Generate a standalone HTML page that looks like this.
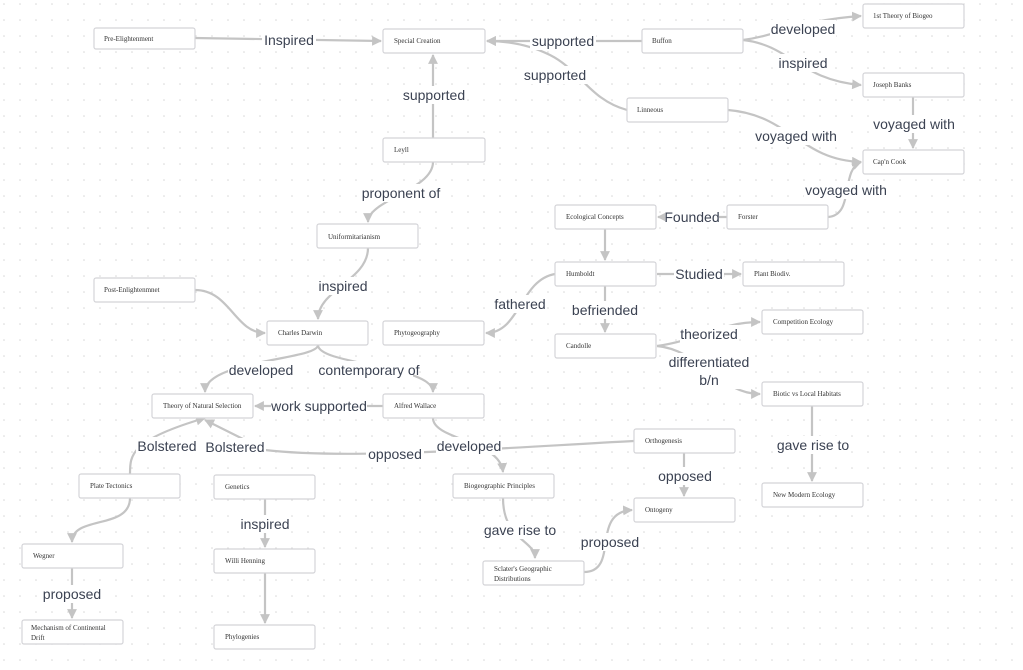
<!DOCTYPE html>
<html><head><meta charset="utf-8"><style>
html,body{margin:0;padding:0;background:#fff;}
svg{display:block;}
.n rect{fill:#fff;stroke:#d4d4d8;stroke-width:1.2;}
.n text{font-family:"Liberation Serif",serif;font-size:7px;fill:#333;}
.e{fill:none;stroke:#c4c4c4;stroke-width:2.2;}
.l{font-family:"Liberation Sans",sans-serif;font-size:14px;fill:#3b4252;text-anchor:middle;}
.lb{fill:#fff;}
</style></head><body>
<svg width="1023" height="670" viewBox="0 0 1023 670" xmlns="http://www.w3.org/2000/svg">
<defs>
<pattern id="dots" width="16" height="16" patternUnits="userSpaceOnUse"><circle cx="4" cy="4" r="0.8" fill="#d8d8d8"/></pattern>
<marker id="a" viewBox="0 0 10 10" refX="9" refY="5" markerWidth="4.5" markerHeight="4.5" orient="auto"><path d="M0,0L10,5L0,10z" fill="#c4c4c4"/></marker>
</defs>
<rect width="1023" height="670" fill="url(#dots)"/>

<g class="e" marker-end="url(#a)">
<path d="M195,38 L381,41"/>
<path d="M642,41 L487,41"/>
<path d="M627,110 C590,100 580,70 550,55 C530,45 510,41 487,41"/>
<path d="M743,40 C780,35 800,20 861,16"/>
<path d="M743,40 C790,45 800,80 861,85"/>
<path d="M913,97 L913,148"/>
<path d="M728,110 C790,115 800,160 861,162"/>
<path d="M828,217 C855,215 840,170 861,162"/>
<path d="M433,138 L433,55"/>
<path d="M433,162 C433,190 368,200 368,222"/>
<path d="M727,217 L658,217"/>
<path d="M605,229 L605,260"/>
<path d="M368,248 C368,280 318,290 318,319"/>
<path d="M195,290 C230,290 235,333 265,333"/>
<path d="M657,274 L741,274"/>
<path d="M555,274 C520,280 520,333 486,333"/>
<path d="M605,286 L605,332"/>
<path d="M657,346 C700,340 720,322 760,322"/>
<path d="M657,346 C700,350 720,394 760,394"/>
<path d="M318,345 C318,360 205,360 205,392"/>
<path d="M318,345 C318,365 433,365 433,392"/>
<path d="M383,406 L255,406"/>
<path d="M433,418 C433,440 500,440 503,472"/>
<path d="M634,441 C500,448 350,460 265,450 L205,420"/>
<path d="M130,474 C130,455 130,440 205,418"/>
<path d="M130,498 C130,530 72,515 72,542"/>
<path d="M265,499 L265,547"/>
<path d="M265,573 L265,623"/>
<path d="M72,568 L72,618"/>
<path d="M503,498 C503,540 535,540 535,558"/>
<path d="M584,572 C620,572 590,512 632,510"/>
<path d="M684,453 L684,496"/>
<path d="M812,406 L812,481"/>
</g>

<g>
<rect class="lb" x="262" y="31" width="54" height="18"/><text class="l" x="289" y="45">Inspired</text>
<rect class="lb" x="530" y="32" width="66" height="18"/><text class="l" x="563" y="46">supported</text>
<rect class="lb" x="522" y="66" width="66" height="18"/><text class="l" x="555" y="80">supported</text>
<rect class="lb" x="770" y="20" width="66" height="18"/><text class="l" x="803" y="34">developed</text>
<rect class="lb" x="778" y="54" width="50" height="18"/><text class="l" x="803" y="68">inspired</text>
<rect class="lb" x="872" y="115" width="84" height="18"/><text class="l" x="914" y="129">voyaged with</text>
<rect class="lb" x="754" y="127" width="84" height="18"/><text class="l" x="796" y="141">voyaged with</text>
<rect class="lb" x="804" y="181" width="84" height="18"/><text class="l" x="846" y="195">voyaged with</text>
<rect class="lb" x="665" y="208" width="54" height="18"/><text class="l" x="692" y="222">Founded</text>
<rect class="lb" x="400" y="86" width="66" height="18"/><text class="l" x="434" y="100">supported</text>
<rect class="lb" x="360" y="184" width="82" height="18"/><text class="l" x="401" y="198">proponent of</text>
<rect class="lb" x="318" y="277" width="50" height="18"/><text class="l" x="343" y="291">inspired</text>
<rect class="lb" x="674" y="265" width="50" height="18"/><text class="l" x="699" y="279">Studied</text>
<rect class="lb" x="494" y="295" width="52" height="18"/><text class="l" x="520" y="309">fathered</text>
<rect class="lb" x="572" y="301" width="66" height="18"/><text class="l" x="605" y="315">befriended</text>
<rect class="lb" x="680" y="325" width="58" height="18"/><text class="l" x="709" y="339">theorized</text>
<rect class="lb" x="668" y="353" width="82" height="36"/><text class="l" x="709" y="367">differentiated</text><text class="l" x="709" y="385">b/n</text>
<rect class="lb" x="228" y="361" width="66" height="18"/><text class="l" x="261" y="375">developed</text>
<rect class="lb" x="325" y="361" width="88" height="18"/><text class="l" x="369" y="375">contemporary of</text>
<rect class="lb" x="271" y="397" width="96" height="18"/><text class="l" x="319" y="411">work supported</text>
<rect class="lb" x="136" y="437" width="62" height="18"/><text class="l" x="167" y="451">Bolstered</text>
<rect class="lb" x="204" y="438" width="62" height="18"/><text class="l" x="235" y="452">Bolstered</text>
<rect class="lb" x="366" y="445" width="58" height="18"/><text class="l" x="395" y="459">opposed</text>
<rect class="lb" x="436" y="437" width="66" height="18"/><text class="l" x="469" y="451">developed</text>
<rect class="lb" x="778" y="436" width="70" height="18"/><text class="l" x="813" y="450">gave rise to</text>
<rect class="lb" x="656" y="467" width="58" height="18"/><text class="l" x="685" y="481">opposed</text>
<rect class="lb" x="239" y="515" width="52" height="18"/><text class="l" x="265" y="529">inspired</text>
<rect class="lb" x="484" y="521" width="72" height="18"/><text class="l" x="520" y="535">gave rise to</text>
<rect class="lb" x="580" y="533" width="62" height="18"/><text class="l" x="610" y="547">proposed</text>
<rect class="lb" x="42" y="585" width="62" height="18"/><text class="l" x="72" y="599">proposed</text>
</g>

<g class="n">
<rect x="94" y="28" width="101" height="21" rx="2"/><text x="104" y="41">Pre-Elightenment</text>
<rect x="383" y="29" width="102" height="24" rx="2"/><text x="394" y="43">Special Creation</text>
<rect x="642" y="29" width="101" height="24" rx="2"/><text x="652" y="43">Buffon</text>
<rect x="863" y="4" width="101" height="24" rx="2"/><text x="873" y="18">1st Theory of Biogeo</text>
<rect x="863" y="73" width="101" height="24" rx="2"/><text x="873" y="87">Joseph Banks</text>
<rect x="627" y="98" width="101" height="24" rx="2"/><text x="637" y="112">Linneous</text>
<rect x="863" y="150" width="101" height="24" rx="2"/><text x="873" y="164">Cap'n Cook</text>
<rect x="383" y="138" width="102" height="24" rx="2"/><text x="394" y="152">Leyll</text>
<rect x="317" y="224" width="101" height="24" rx="2"/><text x="328" y="239">Uniformitarianism</text>
<rect x="555" y="205" width="101" height="24" rx="2"/><text x="566" y="219">Ecological Concepts</text>
<rect x="727" y="205" width="101" height="24" rx="2"/><text x="738" y="219">Forster</text>
<rect x="555" y="262" width="101" height="24" rx="2"/><text x="566" y="276">Humboldt</text>
<rect x="743" y="262" width="101" height="24" rx="2"/><text x="754" y="276">Plant Biodiv.</text>
<rect x="94" y="278" width="101" height="24" rx="2"/><text x="104" y="292">Post-Enlightenmnet</text>
<rect x="267" y="321" width="101" height="24" rx="2"/><text x="278" y="335">Charles Darwin</text>
<rect x="383" y="321" width="101" height="24" rx="2"/><text x="394" y="335">Phytogeography</text>
<rect x="555" y="334" width="101" height="24" rx="2"/><text x="566" y="348">Candolle</text>
<rect x="762" y="310" width="101" height="24" rx="2"/><text x="773" y="324">Competition Ecology</text>
<rect x="152" y="394" width="101" height="24" rx="2"/><text x="163" y="408">Theory of Natural Selection</text>
<rect x="383" y="394" width="101" height="24" rx="2"/><text x="394" y="408">Alfred Wallace</text>
<rect x="762" y="382" width="101" height="24" rx="2"/><text x="773" y="396">Biotic vs Local Habitats</text>
<rect x="634" y="429" width="101" height="24" rx="2"/><text x="645" y="443">Orthogenesis</text>
<rect x="79" y="474" width="101" height="24" rx="2"/><text x="90" y="488">Plate Tectonics</text>
<rect x="214" y="475" width="101" height="24" rx="2"/><text x="225" y="489">Genetics</text>
<rect x="453" y="474" width="101" height="24" rx="2"/><text x="464" y="488">Biogeographic Principles</text>
<rect x="634" y="498" width="101" height="24" rx="2"/><text x="645" y="512">Ontogeny</text>
<rect x="762" y="483" width="101" height="24" rx="2"/><text x="773" y="497">New Modern Ecology</text>
<rect x="22" y="544" width="101" height="24" rx="2"/><text x="33" y="558">Wegner</text>
<rect x="214" y="549" width="101" height="24" rx="2"/><text x="225" y="563">Willi Henning</text>
<rect x="483" y="561" width="101" height="24" rx="2"/><text x="494" y="571">Sclater's Geographic</text><text x="494" y="581">Distributions</text>
<rect x="22" y="620" width="101" height="24" rx="2"/><text x="31" y="630">Mechanism of Continental</text><text x="31" y="640">Drift</text>
<rect x="214" y="625" width="101" height="24" rx="2"/><text x="225" y="639">Phylogenies</text>
</g>
</svg>
</body></html>
